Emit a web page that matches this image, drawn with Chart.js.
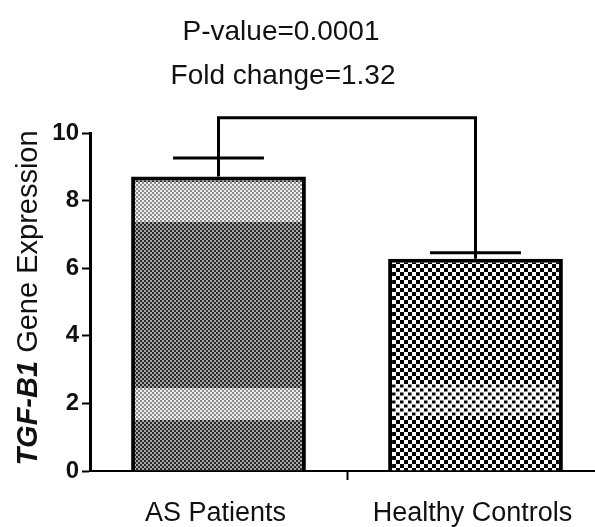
<!DOCTYPE html>
<html>
<head>
<meta charset="utf-8">
<script src="https://cdn.jsdelivr.net/npm/chart.js@4.4.1/dist/chart.umd.min.js"></script>
<style>
  html, body { margin: 0; padding: 0; background: #fff; overflow: hidden; }
  #wrap { width: 595px; height: 527px; overflow: hidden; }
</style>
</head>
<body>
<div id="wrap"><canvas id="TgfChart" width="610" height="527"></canvas></div>
<script>
'use strict'
var categories = ['AS Patients', 'Healthy Controls'];
var means = [8.71, 6.28];
var errors = [0.55, 0.18];
var yTicks = [0, 2, 4, 6, 8, 10];
var bracketLevel = 10.45;
var titleLines = ['P-value=0.0001', 'Fold change=1.32'];
var axisTitle = ['TGF-B1', ' Gene Expression'];

var FONT = '"Liberation Sans", Arial, sans-serif';

function bandRows(chart, ranges) {
  var y = chart.scales.y;
  if (!y || y.top === undefined) return [];
  return ranges.map(function (r) { return [y.getPixelForValue(r[0]), y.getPixelForValue(r[1])]; });
}

function inBand(bands, r) {
  return bands.some(function (b) { return r >= b[0] && r < b[1]; });
}

// fine grey dots, with the two lighter bands the scan shows
function asFill(chart) {
  var h = chart.height, c = document.createElement('canvas');
  c.width = 4; c.height = h;
  var g = c.getContext('2d');
  var bands = bandRows(chart, [[8.56, 7.37], [2.48, 1.56]]);
  for (var r = 0; r < h; r += 2) {
    var light = inBand(bands, r);
    var dark = light ? '#8a8a8a' : '#262626';
    var pale = light ? '#efefef' : '#a9a9a9';
    var odd = (r / 2) % 2;
    g.fillStyle = odd ? pale : dark; g.fillRect(0, r, 2, 2);
    g.fillStyle = odd ? dark : pale; g.fillRect(2, r, 2, 2);
  }
  return chart.ctx.createPattern(c, 'repeat');
}

// coarse black/white checks, slightly smaller squares in the band near the base
function hcFill(chart) {
  var h = chart.height, c = document.createElement('canvas');
  c.width = 8; c.height = h;
  var g = c.getContext('2d');
  var bands = bandRows(chart, [[2.6, 1.65]]);
  g.fillStyle = '#fff'; g.fillRect(0, 0, 8, h);
  g.fillStyle = '#000';
  for (var r = 0; r < h; r += 4) {
    var x0 = (r / 4) % 2 ? 4 : 0;
    if (inBand(bands, r)) g.fillRect(x0, r + 0.5, 3.5, 3);
    else g.fillRect(x0, r, 4, 4);
  }
  return chart.ctx.createPattern(c, 'repeat');
}

var annotations = {
  id: 'annotations',
  afterDatasetsDraw: function (chart) {
    var ctx = chart.ctx, y = chart.scales.y;
    var meta = chart.getDatasetMeta(0);
    ctx.save();
    ctx.strokeStyle = '#000';
    ctx.lineWidth = 3;
    ctx.lineCap = 'butt';
    var tops = [];
    meta.data.forEach(function (bar, i) {
      var cx = bar.x, half = bar.width * 0.26;
      var yTop = y.getPixelForValue(means[i] + errors[i]);
      tops.push([cx, yTop]);
      ctx.beginPath();
      ctx.moveTo(cx, y.getPixelForValue(means[i]));
      ctx.lineTo(cx, yTop);
      ctx.moveTo(cx - half, yTop);
      ctx.lineTo(cx + half, yTop);
      ctx.stroke();
    });
    var yb = y.getPixelForValue(bracketLevel);
    ctx.beginPath();
    ctx.moveTo(tops[0][0], tops[0][1]);
    ctx.lineTo(tops[0][0], yb);
    ctx.lineTo(tops[1][0], yb);
    ctx.lineTo(tops[1][0], tops[1][1]);
    ctx.stroke();

    // header lines
    ctx.fillStyle = '#111';
    ctx.font = '28px ' + FONT;
    ctx.textAlign = 'center';
    ctx.textBaseline = 'alphabetic';
    ctx.fillText(titleLines[0], 281, 40);
    ctx.fillText(titleLines[1], 283, 84);

    // rotated y title, first part bold italic
    ctx.translate(37, 298);
    ctx.rotate(-Math.PI / 2);
    ctx.textAlign = 'left';
    var f1 = 'italic bold 29px ' + FONT, f2 = '29px ' + FONT;
    ctx.font = f1; var w1 = ctx.measureText(axisTitle[0]).width;
    ctx.font = f2; var w2 = ctx.measureText(axisTitle[1]).width;
    var start = -(w1 + w2) / 2;
    ctx.font = f1; ctx.fillText(axisTitle[0], start, 0);
    ctx.font = f2; ctx.fillText(axisTitle[1], start + w1, 0);
    ctx.restore();
  }
};

var chartTgf = new Chart(document.getElementById('TgfChart'), {
  type: 'bar',
  data: {
    labels: categories,
    datasets: [{
      data: means,
      backgroundColor: function (c) {
        return c.dataIndex === 0 ? asFill(c.chart) : hcFill(c.chart);
      },
      borderColor: '#000',
      borderWidth: 4,
      borderSkipped: 'bottom',
      barPercentage: 0.68,
      categoryPercentage: 1
    }]
  },
  options: {
    responsive: false,
    animation: false,
    events: [],
    layout: { padding: { top: 133, right: 6, left: 0, bottom: 0 } },
    plugins: { legend: { display: false }, tooltip: { enabled: false }, title: { display: false } },
    scales: {
      x: {
        offset: true,
        afterFit: function (s) { s.height = 56; },
        grid: {
          offset: true,
          drawOnChartArea: false,
          tickLength: 9,
          tickWidth: 2,
          tickColor: function (c) { return c.index === 1 ? '#000' : 'rgba(0,0,0,0)'; }
        },
        border: { display: true, color: '#000', width: 2 },
        ticks: { color: '#111', padding: 17, labelOffset: -3, font: { family: FONT, size: 27 } }
      },
      y: {
        min: 0,
        max: 10,
        afterFit: function (s) { s.width = 90; },
        afterBuildTicks: function (s) { s.ticks = yTicks.map(function (v) { return { value: v }; }); },
        grid: { drawOnChartArea: false, tickLength: 8, tickWidth: 2, tickColor: '#000' },
        border: { display: true, color: '#000', width: 3 },
        ticks: { color: '#111', padding: 3, font: { family: FONT, size: 24, weight: 'bold' } }
      }
    }
  },
  plugins: [annotations]
});
</script>
</body>
</html>
